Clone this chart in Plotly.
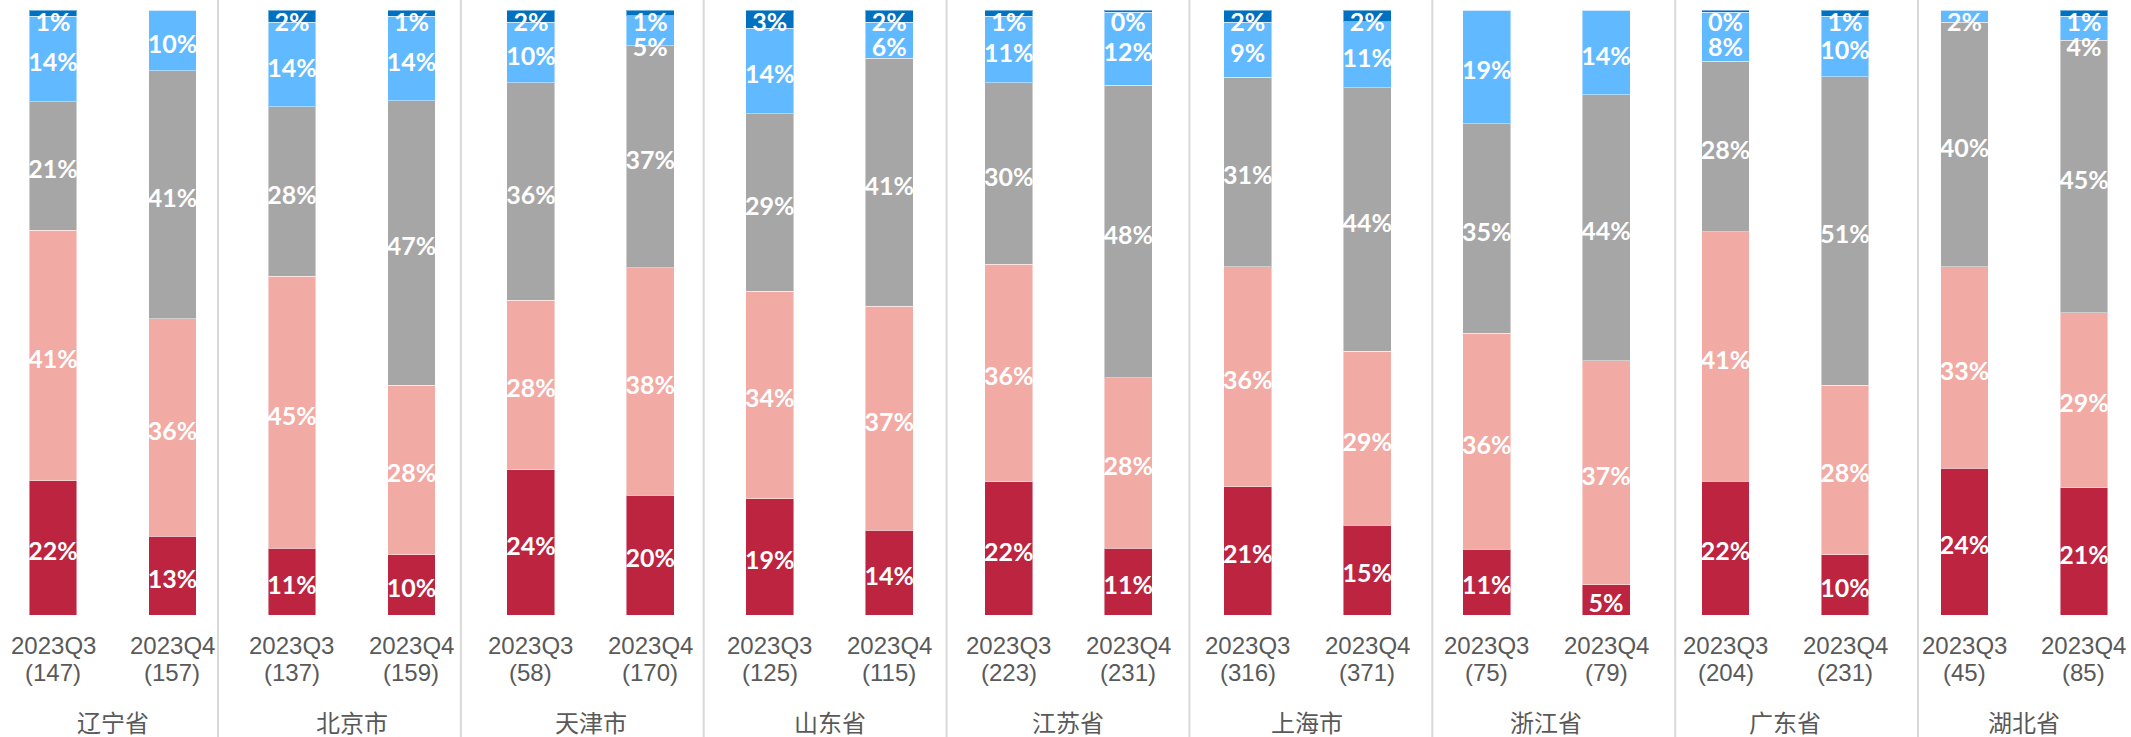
import numpy as np
import plotly.graph_objects as go

# Categories
provinces = ["辽宁省", "北京市", "天津市", "山东省", "江苏省", "上海市", "浙江省", "广东省", "湖北省"]
quarters = ["2023Q3", "2023Q4"]
sample_sizes = [147, 157, 137, 159, 58, 170, 125, 115, 223, 231,
                316, 371, 75, 79, 204, 231, 45, 85]

# Segment shares (%) per bar, bottom segment first
share_dark_red = [22, 13, 11, 10, 24, 20, 19, 14, 22, 11, 21, 15, 11, 5, 22, 10, 24, 21]
share_pink = [41, 36, 45, 28, 28, 38, 34, 37, 36, 28, 36, 29, 36, 37, 41, 28, 33, 29]
share_gray = [21, 41, 28, 47, 36, 37, 29, 41, 30, 48, 31, 44, 35, 44, 28, 51, 40, 45]
share_light_blue = [14, 10, 14, 14, 10, 5, 14, 6, 11, 12, 9, 11, 19, 14, 8, 10, 2, 4]
share_dark_blue = [1, 0, 2, 1, 2, 1, 3, 2, 1, 0.4, 2, 2, 0, 0, 0.4, 1, 0, 1]

series = [share_dark_red, share_pink, share_gray, share_light_blue, share_dark_blue]
colors = ["#BC2440", "#F1AAA4", "#A6A6A6", "#61B9FF", "#0070C0"]
names = ["区间1", "区间2", "区间3", "区间4", "区间5"]

W, H = 2131, 737
M_T, M_B = 10, 122
PLOT_H = H - M_T - M_B
PX_PER_UNIT_Y = PLOT_H / 100.0

n_bars = len(sample_sizes)
xs = np.arange(n_bars)

# x scale: first bar centre 53px, pitch 119.47px
X_PITCH = 119.47
X_FIRST = 53.0
x_range = [-X_FIRST / X_PITCH, (n_bars - 1) + (W - X_FIRST - (n_bars - 1) * X_PITCH) / X_PITCH]

fig = go.Figure()
for vals, col, nm in zip(series, colors, names):
    fig.add_trace(go.Bar(
        x=xs, y=vals, name=nm, width=0.40,
        marker=dict(color=col, line=dict(color="rgba(255,255,255,0.45)", width=1)),
        hoverinfo="skip", showlegend=False,
    ))

# Segment labels: centred in each segment, kept inside the plot and apart from each other
vals = np.array(series, dtype=float)          # (5, n_bars)
norm = vals / vals.sum(axis=0) * 100.0
tops = np.cumsum(norm, axis=0)
mids = tops - norm / 2.0

top_pad = 15.0 / PX_PER_UNIT_Y
min_gap = 25.0 / PX_PER_UNIT_Y
glyph_drop = 6.0 / PX_PER_UNIT_Y   # text box centre sits above the digit centre
lab_x, lab_y, lab_t = [], [], []
for b in range(n_bars):
    ceiling = 100.0 - top_pad
    for s in range(len(series) - 1, -1, -1):
        v = vals[s, b]
        if v <= 0:
            continue
        y = min(mids[s, b] - glyph_drop, ceiling)
        lab_x.append(b)
        lab_y.append(y)
        lab_t.append(f"{v:.0f}%")
        ceiling = y - min_gap

fig.add_trace(go.Scatter(
    x=lab_x, y=lab_y, text=lab_t, mode="text", textposition="middle center",
    textfont=dict(family="Lato, Open Sans, sans-serif", size=25, color="white", weight="bold"),
    hoverinfo="skip", showlegend=False, cliponaxis=False,
))

GRAY = "#595959"
annotations = []
for i in range(n_bars):
    annotations.append(dict(
        x=i, y=0, xref="x", yref="paper", yanchor="middle", yshift=-30,
        text=quarters[i % 2], showarrow=False,
        font=dict(family="Liberation Sans, Arial", size=24, color=GRAY)))
    annotations.append(dict(
        x=i, y=0, xref="x", yref="paper", yanchor="middle", yshift=-57,
        text=f"({sample_sizes[i]})", showarrow=False,
        font=dict(family="Liberation Sans, Arial", size=24, color=GRAY)))
for g, p in enumerate(provinces):
    annotations.append(dict(
        x=2 * g + 0.5, y=0, xref="x", yref="paper", yanchor="middle", yshift=-106,
        text=p, showarrow=False,
        font=dict(family="Noto Sans CJK SC", size=24, color=GRAY)))

# Group dividers across the category band
DIV_FIRST_PX = 218.0
DIV_PITCH_PX = 242.86
shapes = []
for k in range(len(provinces) - 1):
    xp = (DIV_FIRST_PX + k * DIV_PITCH_PX) / W
    shapes.append(dict(
        type="line", xref="paper", yref="paper",
        x0=xp, x1=xp, y0=-M_B / PLOT_H, y1=1 + M_T / PLOT_H,
        line=dict(color="#D9D9D9", width=2)))

fig.update_layout(
    width=W, height=H,
    margin=dict(l=0, r=0, t=M_T, b=M_B),
    barmode="stack", barnorm="percent",
    plot_bgcolor="white", paper_bgcolor="white",
    xaxis=dict(range=x_range, showticklabels=False, showgrid=False, zeroline=False,
               showline=False, ticks=""),
    yaxis=dict(range=[0, 100], visible=False, showgrid=False, zeroline=False),
    annotations=annotations, shapes=shapes,
)

fig.write_html("out.html")
